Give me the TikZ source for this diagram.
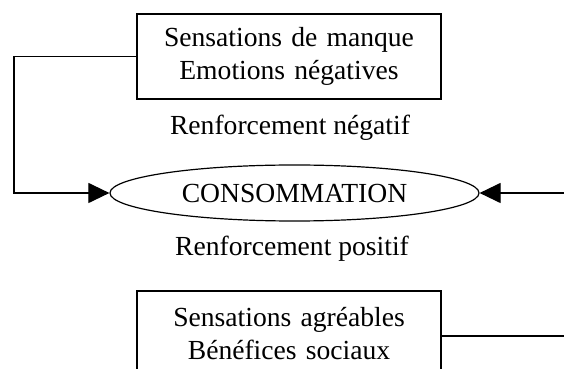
\documentclass[tikz,border=0pt]{standalone}
\usepackage{fontspec}
\setmainfont{Liberation Serif}
\usetikzlibrary{arrows.meta, shapes.geometric}

\begin{document}
\begin{tikzpicture}[
    x=0.5pt, y=-0.5pt,
    block/.style={rectangle, draw, line width=0.6pt, text width=148pt, align=center, minimum width=152pt, minimum height=42.5pt, inner sep=0pt, font=\fontsize{13.8}{16.5}\selectfont},
    conso/.style={ellipse, draw, line width=0.6pt, minimum width=184.5pt, minimum height=28pt, inner sep=0pt, font=\fontsize{13.8}{16.5}\selectfont},
    renfort/.style={font=\fontsize{13.8}{16.5}\selectfont},
    arrow/.style={-{Triangle[length=10.5pt, width=10pt]}, line width=0.6pt},
    link/.style={line width=0.6pt}
]
    \clip (0,0) rectangle (564,369);
    \useasboundingbox (0,0) rectangle (564,369);

    \node [block] (manque) at (289,56.5) {Sensations de manque\\Emotions négatives};
    \node [renfort] (negatif) at (290,128) {Renforcement négatif};
    \node [conso] (consommation) at (294.5,193) {CONSOMMATION};
    \node [renfort] (positif) at (292,249) {Renforcement positif};
    \node [block] (agreables) at (289,333.5) {Sensations agréables\\Bénéfices sociaux};

    \coordinate (gauche) at (14,193);
    \coordinate (droite) at (566,193);
    \coordinate (sortie) at (566,336);

    \draw [arrow] (manque.west) -| (gauche) -- (consommation.west);
    \draw [arrow] (droite) -- (consommation.east);
    \draw [link] (agreables.east |- sortie) -- (sortie);
\end{tikzpicture}
\end{document}
